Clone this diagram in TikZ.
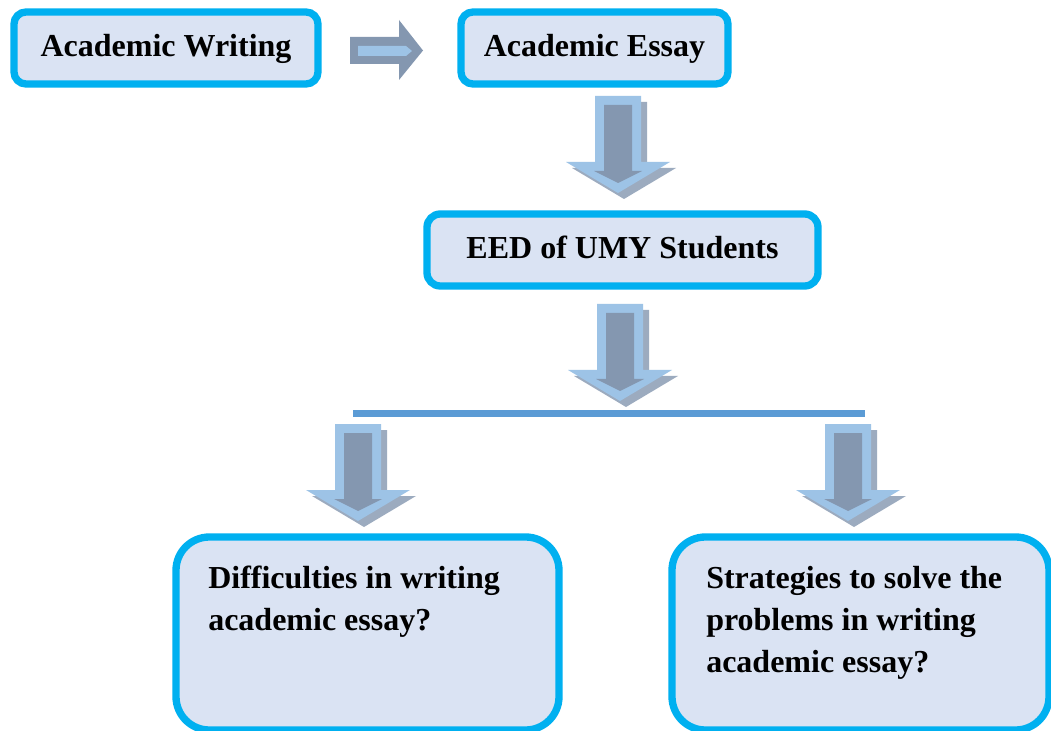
\documentclass[tikz,border=0pt]{standalone}
\usepackage{fontspec}
\setmainfont{Liberation Serif}
\definecolor{boxcyan}{HTML}{00B0F0}
\definecolor{boxfill}{HTML}{DAE3F3}
\definecolor{arrlight}{HTML}{9DC3E6}
\definecolor{arrgray}{HTML}{8497B0}
\definecolor{linecol}{HTML}{5B9BD5}
\tikzset{
  box/.style={draw=boxcyan, fill=boxfill, line width=5.5pt, rounded corners=#1,
    inner sep=0pt, font=\fontsize{24}{31.5}\selectfont\bfseries,
    text height=17pt, text depth=4pt},
  box/.default=9pt,
  bigtext/.style={inner sep=0pt, align=left, font=\fontsize{24}{31.5}\selectfont\bfseries},
  darrow/.pic={
    \fill[arrgray, opacity=0.8] (-17,6) -- (29,6) -- (29,72) -- (58,72) -- (6,103) -- (-46,72) -- (-17,72) -- cycle;
    \fill[arrlight] (-23,0) -- (23,0) -- (23,66) -- (52,66) -- (0,97) -- (-52,66) -- (-23,66) -- cycle;
    \fill[arrgray] (-14,9) -- (14,9) -- (14,75) -- (24,75) -- (0,87) -- (-24,75) -- (-14,75) -- cycle;
  }
}
\begin{document}
\begin{tikzpicture}[x=0.75pt,y=-0.75pt]
\useasboundingbox (0,0) rectangle (1051,731);
\fill[white] (0,0) rectangle (1051,731);

% top boxes
\node[box, minimum width=304*0.75pt, minimum height=72*0.75pt] (aw) at (166,48) {Academic Writing};
\node[box, minimum width=267*0.75pt, minimum height=72*0.75pt] (ae) at (594.5,48) {Academic Essay};
\node[box=10pt, minimum width=391*0.75pt, minimum height=72*0.75pt] (eed) at (622.5,250) {EED of UMY Students};

% right arrow
\fill[arrgray] (350,37) -- (399,37) -- (399,20) -- (423,50.5) -- (399,80) -- (399,64) -- (350,64) -- cycle;
\fill[arrlight] (358,46) -- (406,46) -- (412,51) -- (406,56) -- (358,56) -- cycle;

% down arrows
\pic (d1) at (618,96) {darrow};
\pic (d2) at (620,304) {darrow};

% horizontal line
\coordinate (hl) at (353,413.5);
\coordinate (hr) at (865,413.5);
\draw[linecol, line width=5pt] (hl) -- (hr);

\pic (d3) at (358,424) {darrow};
\pic (d4) at (848,424) {darrow};

% bottom boxes
\node[box=25pt, minimum width=383*0.75pt, minimum height=193*0.75pt] (dif) at (367.5,633.5) {};
\node[box=25pt, minimum width=377*0.75pt, minimum height=193*0.75pt] (str) at (860.5,633.5) {};

\node[bigtext, anchor=base west] (dift) at (208,630) {Difficulties in writing\\academic essay?};
\node[bigtext, anchor=base west] (strt) at (706,672) {Strategies to solve the\\problems in writing\\academic essay?};
\end{tikzpicture}
\end{document}
